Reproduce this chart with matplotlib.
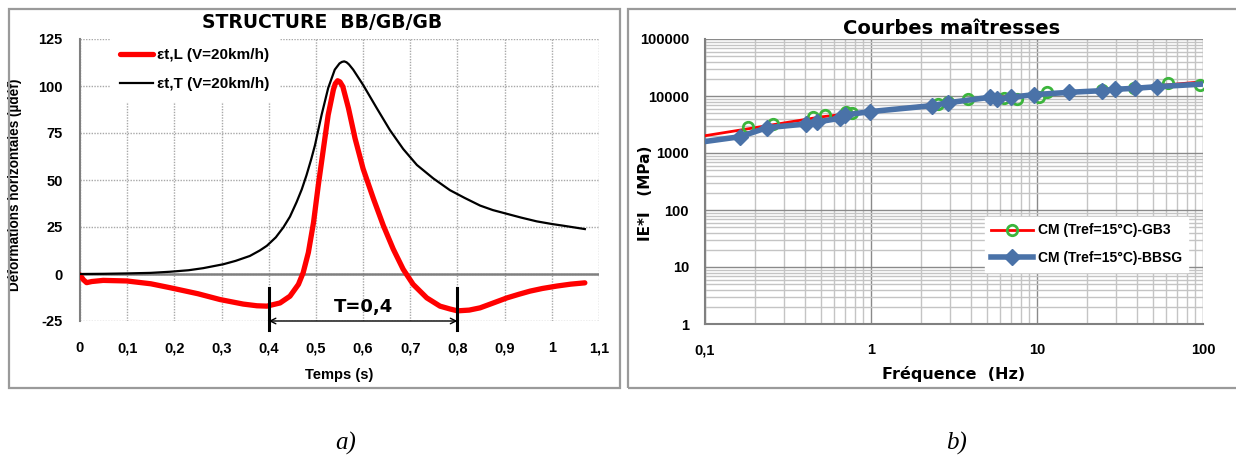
import matplotlib
matplotlib.use("Agg")
import matplotlib.pyplot as plt
from matplotlib.lines import Line2D
from matplotlib.patches import Rectangle

plt.rcParams["axes.unicode_minus"] = False

# ---- (a) horizontal strains vs time ----
t_L = [0.0, 0.007, 0.014, 0.025, 0.049, 0.099, 0.15, 0.191, 0.25, 0.297, 0.346,
       0.375, 0.396, 0.424, 0.445, 0.463, 0.473, 0.484, 0.495, 0.505, 0.516,
       0.526, 0.537, 0.541, 0.546, 0.551, 0.557, 0.569, 0.583, 0.600, 0.622,
       0.643, 0.664, 0.685, 0.706, 0.735, 0.763, 0.784, 0.800, 0.825, 0.848,
       0.875, 0.905, 0.930, 0.954, 0.980, 1.011, 1.040, 1.070]
eps_L = [-0.5, -3.0, -4.6, -4.0, -3.4, -3.7, -5.2, -7.3, -10.5, -13.6, -16.0,
         -16.9, -17.1, -15.4, -11.8, -5.5, 0.7, 11.4, 27.5, 47.1, 66.8,
         84.6, 98.0, 101.2, 102.8, 102.2, 99.7, 88.2, 72.1, 56.0, 40.0,
         25.7, 13.2, 2.5, -5.5, -12.7, -17.1, -18.6, -19.6, -19.2, -18.0,
         -15.5, -12.7, -10.8, -9.1, -7.7, -6.4, -5.4, -4.7]

t_T = [0.0, 0.05, 0.099, 0.15, 0.191, 0.23, 0.261, 0.304, 0.33, 0.36, 0.381,
       0.396, 0.415, 0.431, 0.445, 0.459, 0.470, 0.480, 0.490, 0.498, 0.512,
       0.526, 0.540, 0.550, 0.555, 0.560, 0.565, 0.570, 0.579, 0.600, 0.629,
       0.657, 0.685, 0.714, 0.749, 0.784, 0.815, 0.848, 0.875, 0.905, 0.935,
       0.968, 1.0, 1.024, 1.070]
eps_T = [0.0, 0.1, 0.3, 0.6, 1.2, 2.0, 3.1, 5.2, 7.0, 9.6, 12.5,
         15.0, 19.5, 24.8, 30.5, 38.2, 45.0, 52.5, 61.0, 68.5, 84.6,
         98.9, 108.7, 112.0, 112.8, 113.1, 112.6, 111.5, 108.7, 100.6, 88.2,
         76.5, 66.5, 58.0, 50.8, 44.6, 40.5, 36.4, 34.0, 32.0, 30.0,
         28.0, 26.6, 25.7, 23.9]

label_L = "εt,L (V=20km/h)"
label_T = "εt,T (V=20km/h)"
time_ticks = [0, 0.1, 0.2, 0.3, 0.4, 0.5, 0.6, 0.7, 0.8, 0.9, 1.0, 1.1]
time_ticklabels = ["0", "0,1", "0,2", "0,3", "0,4", "0,5", "0,6", "0,7", "0,8", "0,9", "1", "1,1"]
strain_ticks = [-25, 0, 25, 50, 75, 100, 125]

t_start = 0.4
period = 0.4
period_label = "T=0,4"

# ---- (b) master curves ----
gb3_model_f = [0.1, 0.2, 0.5, 1, 2, 4.15, 10, 31, 100]
gb3_model_E = [2010, 2780, 4300, 5400, 6700, 8900, 10800, 13200, 17800]
gb3_f = [0.181, 0.256, 0.445, 0.53, 0.707, 0.77, 2.55, 2.92, 3.85, 6.3, 7.6,
         10.3, 11.5, 24.6, 38.6, 61.9, 95.6]
gb3_E = [2890, 3230, 4230, 4640, 5170, 4970, 7200, 7750, 8700, 9100, 8750,
         9480, 11600, 12700, 13600, 16700, 15600]

bbsg_f = [0.1, 0.1625, 0.236, 0.406, 0.475, 0.65, 0.697, 0.98, 2.32, 2.92, 5.2,
          5.76, 6.96, 9.56, 15.6, 24.6, 29.4, 38.9, 52.6, 100]
bbsg_E = [1590, 1930, 2780, 3230, 3500, 4070, 4640, 5310, 6760, 7620, 9490,
          8860, 9490, 10550, 11600, 12400, 13100, 13650, 14560, 16200]

label_gb3 = "CM (Tref=15°C)-GB3"
label_bbsg = "CM (Tref=15°C)-BBSG"
freq_ticks = [0.1, 1, 10, 100]
freq_ticklabels = ["0,1", "1", "10", "100"]
mod_ticks = [1, 10, 100, 1000, 10000, 100000]
mod_ticklabels = ["1", "10", "100", "1000", "10000", "100000"]

NARROW = ["Liberation Sans", "DejaVu Sans"]
WIDE = ["DejaVu Sans"]

W, H = 1236, 459
fig = plt.figure(figsize=(W / 100, H / 100), dpi=100)
fig.patch.set_facecolor("white")


def fx(px):
    return px / W


def fy(py):
    return 1 - py / H


# panel frames
for x0, x1 in [(8.5, 620), (628, 1240)]:
    fig.add_artist(Rectangle((fx(x0), fy(388)), fx(x1 - x0), (388 - 9) / H,
                             transform=fig.transFigure, fill=False,
                             edgecolor="#9a9a9a", lw=1.6))

# ---------------- panel (a) ----------------
ax1 = fig.add_axes([fx(80), fy(321), fx(519), 282 / H])
ax1.set_xlim(0, 1.1)
ax1.set_ylim(-25, 125)
ax1.set_xticks(time_ticks)
ax1.set_xticklabels(time_ticklabels)
ax1.set_yticks(strain_ticks)
ax1.grid(True, color="#a8a8a8", linestyle=(0, (1, 1)), lw=1.0)
ax1.set_axisbelow(True)
for s in ["top", "right", "bottom"]:
    ax1.spines[s].set_visible(False)
ax1.spines["left"].set_color("#808080")
ax1.spines["left"].set_linewidth(1.5)
ax1.axhline(0, color="#808080", lw=1.8, zorder=1)
ax1.tick_params(length=0, labelsize=10.5)
ax1.tick_params(axis="x", pad=14.5)
ax1.tick_params(axis="y", pad=12.5)
for lab in ax1.get_xticklabels() + ax1.get_yticklabels():
    lab.set_fontfamily(NARROW)
    lab.set_fontweight("bold")

ax1.plot(t_L, eps_L, color="#ff0000", lw=3.8, solid_capstyle="round",
         solid_joinstyle="round", label=label_L, zorder=3)
ax1.plot(t_T, eps_T, color="black", lw=1.6, solid_joinstyle="round",
         label=label_T, zorder=4)

leg1 = ax1.legend(loc="upper left", bbox_to_anchor=(0.06, 1.0), frameon=True,
                  fancybox=False, framealpha=1, edgecolor="white",
                  facecolor="white", handlelength=2.15, handletextpad=0.25,
                  labelspacing=1.0, borderpad=0.6, borderaxespad=0,
                  prop={"family": NARROW, "weight": "bold", "size": 11})
leg1.set_zorder(2)

t_end = t_start + period
for tx in [t_start, t_end]:
    ax1.plot([tx, tx], [-7.5, -30], color="black", lw=2.2, clip_on=False, zorder=5)
ax1.annotate("", xy=(t_start, -25), xytext=(t_end, -25),
             arrowprops=dict(arrowstyle="<->", color="black", lw=1.0,
                             shrinkA=0, shrinkB=0), zorder=5)
ax1.text((t_start + t_end) / 2, -17.5, period_label, ha="center", va="center",
         fontsize=13, fontweight="bold", family=WIDE)

ax1.set_xlabel("Temps (s)", family=NARROW, fontweight="bold", fontsize=10.5,
               labelpad=9)
ax1.set_ylabel("Déformations horizontales (µdéf)", family=NARROW,
               fontweight="bold", fontsize=9.8)
ax1.yaxis.set_label_coords(-0.112, 0.482)
fig.text(fx(322), fy(23), "STRUCTURE  BB/GB/GB", ha="center", va="center",
         family=WIDE, fontweight="heavy", fontsize=13.5)

# ---------------- panel (b) ----------------
ax2 = fig.add_axes([fx(705), fy(324), fx(498), 285 / H])
ax2.set_xscale("log")
ax2.set_yscale("log")
ax2.set_xlim(0.1, 100)
ax2.set_ylim(1, 100000)
ax2.grid(True, which="minor", color="#c4c4c4", lw=1.0)
ax2.grid(True, which="major", color="#8a8a8a", lw=1.0)
ax2.set_axisbelow(True)
ax2.set_xticks(freq_ticks)
ax2.set_xticklabels(freq_ticklabels)
ax2.set_yticks(mod_ticks)
ax2.set_yticklabels(mod_ticklabels)
ax2.tick_params(which="both", length=0, labelsize=10.5)
ax2.tick_params(axis="x", pad=14)
ax2.tick_params(axis="y", pad=11.5)
for lab in ax2.get_xticklabels() + ax2.get_yticklabels():
    lab.set_fontfamily(NARROW)
    lab.set_fontweight("bold")
for s in ["top", "right"]:
    ax2.spines[s].set_visible(False)
for s in ["left", "bottom"]:
    ax2.spines[s].set_color("#808080")
    ax2.spines[s].set_linewidth(1.5)

green = "#3cb53c"
blue = "#4a72a8"
ax2.plot(gb3_model_f, gb3_model_E, color="#ff0000", lw=2.0, zorder=3)
ax2.plot(gb3_f, gb3_E, linestyle="none", marker="o", ms=7.5, mfc="none",
         mec=green, mew=2.0, zorder=4)
ax2.plot(bbsg_f, bbsg_E, color=blue, lw=4.0, marker="D", ms=8, mfc=blue,
         mec=blue, markevery=list(range(1, len(bbsg_f) - 1)), zorder=5)

h_gb3 = Line2D([], [], color="#ff0000", lw=2.0, marker="o", ms=7.5, mfc="none",
               mec=green, mew=2.0)
h_bbsg = Line2D([], [], color=blue, lw=4.0, marker="D", ms=8, mfc=blue, mec=blue)
ax2.legend([h_gb3, h_bbsg], [label_gb3, label_bbsg], loc="upper left",
           bbox_to_anchor=(0.562, 0.375), frameon=True, fancybox=False,
           framealpha=1, edgecolor="white", facecolor="white",
           handlelength=3.0, handletextpad=0.35, labelspacing=1.0,
           borderpad=0.45, borderaxespad=0,
           prop={"family": NARROW, "weight": "bold", "size": 10})

ax2.set_xlabel("Fréquence  (Hz)", family=WIDE, fontweight="bold", fontsize=11.5,
               labelpad=6)
ax2.set_ylabel("IE*I   (MPa)", family=WIDE, fontweight="bold", fontsize=11)
ax2.yaxis.set_label_coords(-0.105, 0.46)
fig.text(fx(952), fy(28), "Courbes maîtresses", ha="center", va="center",
         family=WIDE, fontweight="heavy", fontsize=14)

# panel letters
fig.text(fx(346), fy(443), "a)", ha="center", va="center",
         family=["Liberation Serif", "DejaVu Serif"], style="italic", fontsize=18)
fig.text(fx(957), fy(443), "b)", ha="center", va="center",
         family=["Liberation Serif", "DejaVu Serif"], style="italic", fontsize=18)

fig.savefig("out.png", dpi=100)
